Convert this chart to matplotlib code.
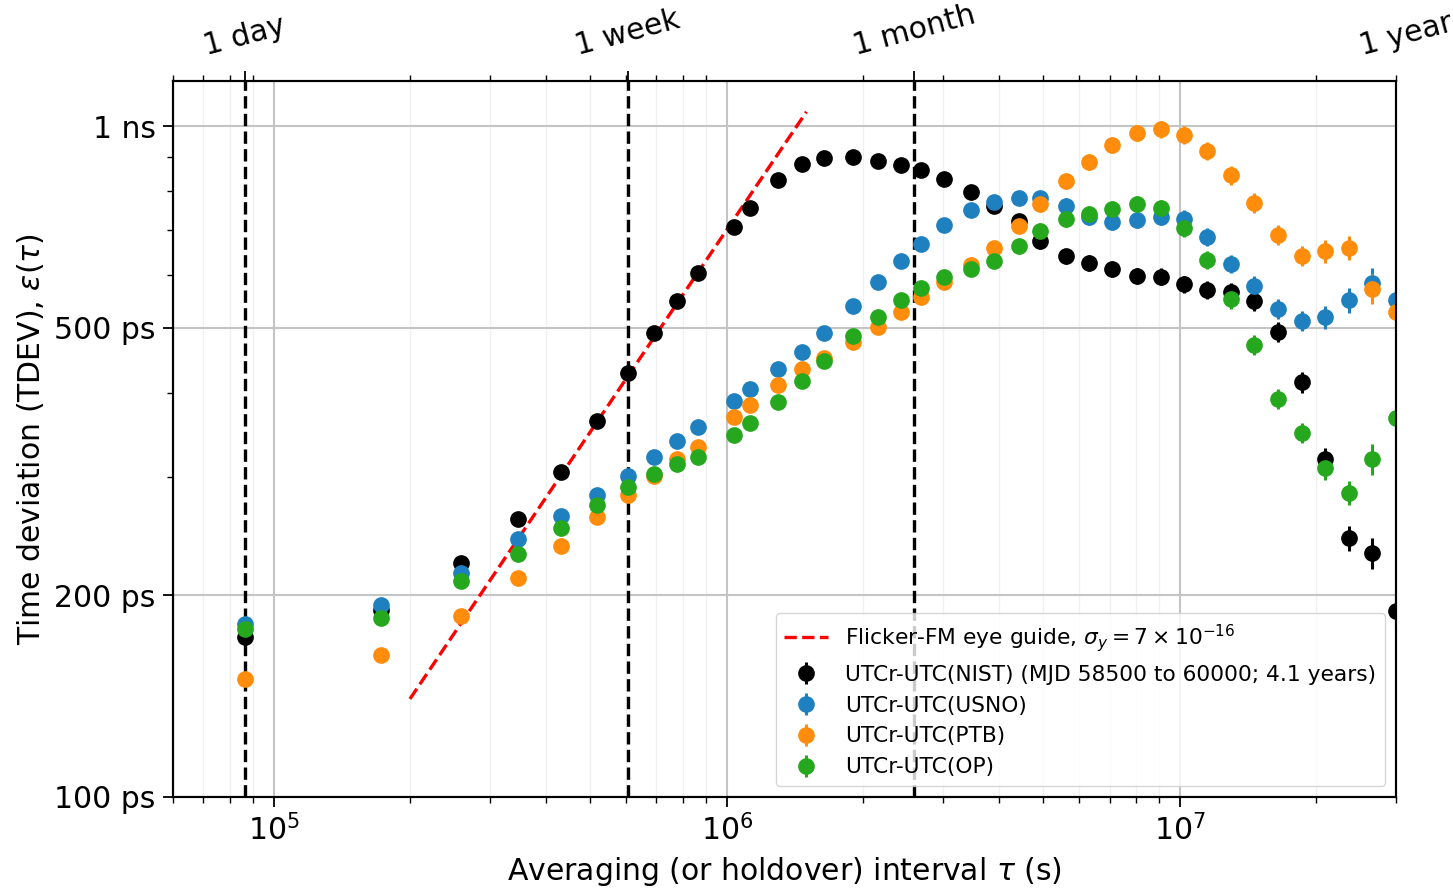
import matplotlib
matplotlib.use("Agg")
import matplotlib.pyplot as plt
import numpy as np
from matplotlib.ticker import NullFormatter, FixedLocator

# ---------------- data ----------------
tau_days = [1, 2, 3, 4, 5, 6, 7, 8, 9, 10, 12, 13, 15, 17, 19, 22, 25, 28, 31, 35,
            40, 45, 51, 57, 65, 73, 82, 93, 105, 118, 133, 150, 169, 191, 215, 242,
            273, 308, 347]

tdev_nist = [173, 190, 223, 260, 305, 363, 428, 491, 548, 604, 707, 755, 831, 878, 896,
             899, 887, 875, 860, 834, 797, 760, 722, 674, 640, 625, 612, 598, 596, 581,
             570, 566, 549, 493, 415, 319, 243, 231, 189]
tdev_usno = [181, 193, 216, 242, 262, 282, 301, 321, 339, 356, 389, 406, 435, 461, 491,
             539, 586, 629, 667, 712, 750, 771, 781, 781, 760, 732, 719, 724, 732, 727,
             683, 623, 578, 534, 512, 519, 550, 583, 550]
tdev_ptb = [150, 163, 186, 212, 237, 261, 282, 301, 319, 332, 368, 384, 411, 435, 451,
            477, 502, 528, 556, 586, 621, 658, 710, 765, 828, 884, 937, 976, 990, 970,
            918, 845, 768, 688, 640, 651, 658, 572, 528]
tdev_op = [178, 185, 210, 230, 252, 272, 290, 303, 314, 321, 346, 361, 388, 417, 447,
           486, 519, 550, 574, 596, 612, 629, 662, 698, 727, 740, 752, 765, 755, 705,
           632, 552, 472, 392, 349, 309, 284, 319, 367]
# relative 1-sigma uncertainty per tau
rel_err = [0.005, 0.006, 0.007, 0.008, 0.009, 0.010, 0.011, 0.011, 0.012, 0.012,
           0.013, 0.014, 0.015, 0.016, 0.017, 0.018, 0.019, 0.020, 0.021, 0.022,
           0.023, 0.024, 0.025, 0.026, 0.026, 0.027, 0.027, 0.028, 0.029, 0.030,
           0.031, 0.032, 0.034, 0.034, 0.035, 0.040, 0.042, 0.052, 0.055]

series_labels = ["UTCr-UTC(NIST) (MJD 58500 to 60000; 4.1 years)",
                 "UTCr-UTC(USNO)", "UTCr-UTC(PTB)", "UTCr-UTC(OP)"]
series_colors = ["black", "#1f80bf", "#ff8c0a", "#26a81e"]

guide_tau = [2.0e5, 1.5e6]
guide_sigma_y = 7e-16

mark_tau = [86400, 604800, 2592000, 31536000]
mark_labels = ["1 day", "1 week", "1 month", "1 year"]

ytick_vals = [100, 200, 500, 1000]
ytick_labels = ["100 ps", "200 ps", "500 ps", "1 ns"]

# ---------------- figure ----------------
W, H = 1453, 891
fig = plt.figure(figsize=(W / 100, H / 100), dpi=100)
ax = fig.add_axes([173 / W, 1 - 797 / H, (1396 - 173) / W, (797 - 81) / H])

FS = 21.5

tau_s = np.array(tau_days) * 86400.0

# eye guide
gt = np.array(guide_tau)
ax.plot(gt, guide_sigma_y * gt * 1e12, 'r--', lw=2.4,
        label=r'Flicker-FM eye guide, $\sigma_y = 7 \times 10^{-16}$', zorder=3)

for vals, lab, col in zip([tdev_nist, tdev_usno, tdev_ptb, tdev_op],
                          series_labels, series_colors):
    v = np.array(vals, dtype=float)
    e = v * np.array(rel_err)
    ax.errorbar(tau_s, v, yerr=e, fmt='o', color=col, ms=11, elinewidth=2.2,
                capsize=0, label=lab, zorder=4)

for t in mark_tau:
    ax.axvline(t, color='black', ls='--', lw=2.4, zorder=2)

ax.set_xscale('log')
ax.set_yscale('log')
ax.set_xlim(6e4, 3e7)
ax.set_ylim(100, 1167)

ax.set_yticks(ytick_vals)
ax.set_yticklabels(ytick_labels)
ax.yaxis.set_minor_formatter(NullFormatter())

ax.grid(True, which='major', color='#c4c4c4', lw=1.5, zorder=0)
ax.grid(True, which='minor', axis='x', color='#f0f0f0', lw=1.0, zorder=0)
ax.set_axisbelow(True)

ax.tick_params(axis='both', which='major', labelsize=FS, length=7.5, width=1.3, pad=5)
ax.tick_params(axis='both', which='minor', length=4, width=1.0)
for sp in ax.spines.values():
    sp.set_linewidth(1.5)

ax.set_xlabel(r'Averaging (or holdover) interval $\tau$ (s)', fontsize=FS, labelpad=6)
ax.set_ylabel(r'Time deviation (TDEV), $\varepsilon(\tau)$', fontsize=FS, labelpad=6)

# top axis with log ticks
ax2 = ax.twiny()
ax2.set_xscale('log')
ax2.set_xlim(ax.get_xlim())
ax2.xaxis.set_major_locator(FixedLocator(mark_tau[:3]))
ax2.set_xticklabels([''] * 3)
ax2.xaxis.set_minor_formatter(NullFormatter())
ax2.tick_params(axis='x', which='major', length=7.5, width=1.3)
ax2.tick_params(axis='x', which='minor', length=4, width=1.0)
for sp in ax2.spines.values():
    sp.set_linewidth(1.5)

for t, lab in zip(mark_tau, mark_labels):
    ax.annotate(lab, xy=(t, 1.0), xycoords=('data', 'axes fraction'),
                xytext=(0, 20), textcoords='offset pixels', ha='center', va='bottom',
                rotation=15, fontsize=FS, annotation_clip=False)

leg = ax.legend(loc='lower right', fontsize=15.7)

fig.savefig('out.png', dpi=100)
